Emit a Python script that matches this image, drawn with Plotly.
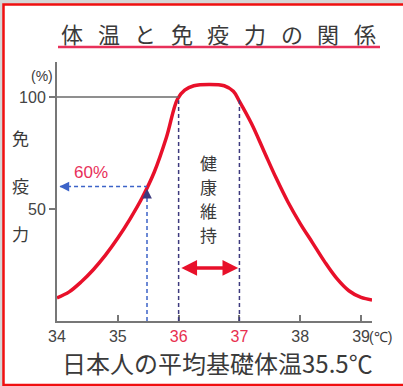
import plotly.graph_objects as go

# ---- data ----
temps = [34.0, 34.2, 34.4, 34.6, 34.8, 35.0, 35.2, 35.4, 35.6, 35.8, 35.98, 36.1, 36.25, 36.5, 36.75, 36.9, 37.0,
         37.2, 37.4, 37.6, 37.8, 38.0, 38.2, 38.4, 38.6, 38.8, 39.0, 39.18]
immunity = [10.3, 13.0, 17.5, 23.0, 29.5, 37.0, 45.5, 55.0, 66.5, 82.0, 99.0, 103.0, 105.0, 105.6, 105.0, 102.5, 98.0,
            88.0, 76.0, 64.0, 53.0, 43.5, 35.0, 26.5, 19.0, 13.5, 10.5, 9.4]
x_ticks = [34, 35, 36, 37, 38, 39]
x_tick_labels = ["34", "35", "<span style='color:#e8304f'>36</span>", "<span style='color:#e8304f'>37</span>", "38", "39"]
y_ticks = [50, 100]
y_tick_labels = ["50", "100"]
avg_temp = 35.48
avg_immunity = 60
healthy_range = [36, 37]
title_chars = list("体温と免疫力の関係")
y_title_chars = list("免疫力")
healthy_chars = list("健康維持")
bottom_text = "日本人の平均基礎体温35.5℃"

W, H = 403, 386
L, R, T, B = 57, 31, 62, 65
PW, PH = W - L - R, H - T - B

def px(xp):
    return (xp - L) / PW

def py(yp):
    return (H - B - yp) / PH

FONT = "Noto Sans CJK JP, Noto Sans, sans-serif"
NUMF = "Liberation Sans, Arial, sans-serif"
TXT = "#3a3a3a"
RED = "#e8102a"
BLUE = "#3c63c8"
NAVY = "#3d3a7e"

fig = go.Figure()
fig.add_trace(go.Scatter(x=temps, y=immunity, mode="lines",
                         line=dict(color=RED, width=3.5, shape="spline", smoothing=1.0),
                         hoverinfo="skip", showlegend=False))

shapes = []
shapes.append(dict(type="rect", xref="paper", yref="paper", x0=px(3.5), x1=px(420), y0=py(385), y1=py(4.5),
                   fillcolor="white", line=dict(color="#f01010", width=2.5), layer="below"))
shapes.append(dict(type="line", xref="paper", yref="paper", x0=px(58), x1=px(380), y0=py(47), y1=py(47),
                   line=dict(color="#e8305a", width=2.5)))
shapes.append(dict(type="line", xref="x", yref="y", x0=34, x1=healthy_range[0], y0=100, y1=100,
                   line=dict(color="#6a6a6a", width=1.5)))
for t in healthy_range:
    shapes.append(dict(type="line", xref="x", yref="y", x0=t, x1=t, y0=0, y1=98.5,
                       line=dict(color=NAVY, width=1.5, dash="4px,3px")))
shapes.append(dict(type="line", xref="x", yref="y", x0=34.05, x1=avg_temp, y0=avg_immunity, y1=avg_immunity,
                   line=dict(color=BLUE, width=1.5, dash="4px,3px")))
shapes.append(dict(type="line", xref="x", yref="y", x0=avg_temp, x1=avg_temp, y0=0, y1=avg_immunity - 2,
                   line=dict(color=BLUE, width=1.5, dash="4px,3px")))

ann = []
x0c, pitch = 72, 36.6
for i, ch in enumerate(title_chars):
    ann.append(dict(text=ch, xref="paper", yref="paper", x=px(x0c + i * pitch), y=py(33),
                    xanchor="center", yanchor="middle",
                    showarrow=False, font=dict(family=FONT, size=22, color=TXT)))
for ch, yy in zip(y_title_chars, [137, 185, 233]):
    ann.append(dict(text=ch, xref="paper", yref="paper", x=px(20), y=py(yy),
                    xanchor="center", yanchor="middle",
                    showarrow=False, font=dict(family=FONT, size=17, color=TXT)))
for i, ch in enumerate(healthy_chars):
    ann.append(dict(text=ch, xref="paper", yref="paper", x=px(208), y=py(162 + i * 24),
                    xanchor="center", yanchor="middle",
                    showarrow=False, font=dict(family=FONT, size=17, color=TXT)))
ann.append(dict(text="(%)", xref="paper", yref="paper", x=px(55), y=py(76), xanchor="right", yanchor="middle",
                showarrow=False, font=dict(family=NUMF, size=14, color=TXT)))
ann.append(dict(text="(℃)", xref="paper", yref="paper", x=px(367), y=py(337), xanchor="left", yanchor="middle",
                showarrow=False, font=dict(family=NUMF, size=14, color=TXT)))
ann.append(dict(text="60%", xref="x", yref="y", x=34.56, y=66.5, showarrow=False,
                xanchor="center", yanchor="middle",
                font=dict(family=NUMF, size=17, color="#e8305a")))
ann.append(dict(text=bottom_text, xref="paper", yref="paper", x=px(217), y=py(362), showarrow=False,
                xanchor="center", yanchor="middle",
                font=dict(family=FONT, size=24, color=TXT)))
ann.append(dict(text="", x=healthy_range[1] - 0.02, y=23.7, ax=healthy_range[0] + 0.02, ay=23.7,
                xref="x", yref="y", axref="x", ayref="y", showarrow=True, arrowhead=2, startarrowhead=2,
                arrowside="end+start", arrowwidth=3.5, arrowsize=0.9, startarrowsize=0.9, arrowcolor=RED,
                standoff=0, startstandoff=0))
ann.append(dict(text="", x=34.04, y=avg_immunity, ax=34.2, ay=avg_immunity,
                xref="x", yref="y", axref="x", ayref="y", showarrow=True, arrowhead=2,
                arrowwidth=1.5, arrowsize=1.3, arrowcolor=BLUE, standoff=0))
ann.append(dict(text="", x=avg_temp, y=avg_immunity - 1, ax=avg_temp, ay=avg_immunity - 5,
                xref="x", yref="y", axref="x", ayref="y", showarrow=True, arrowhead=2,
                arrowwidth=1.5, arrowsize=1.3, arrowcolor=NAVY, standoff=0))
ann.append(dict(text="", x=avg_temp - 0.03, y=-1.8, ax=avg_temp - 0.03, ay=-11.8,
                xref="x", yref="y", axref="x", ayref="y", showarrow=True, arrowhead=2,
                arrowwidth=1.8, arrowsize=1.0, arrowcolor=BLUE, standoff=0))

fig.update_layout(
    width=W, height=H, margin=dict(l=L, r=R, t=T, b=B),
    paper_bgcolor="#d6d6d6", plot_bgcolor="rgba(0,0,0,0)",
    shapes=shapes, annotations=ann, showlegend=False,
    xaxis=dict(range=[34, 39.18], tickvals=x_ticks, ticktext=x_tick_labels, ticks="inside", ticklen=6,
               tickcolor="#777", tickwidth=1.5, showgrid=False, zeroline=False, showline=True,
               linecolor="#777", linewidth=2, tickfont=dict(family=NUMF, size=16, color="#444"), fixedrange=True),
    yaxis=dict(range=[0, 115.6], tickvals=y_ticks, ticktext=y_tick_labels, ticks="outside", ticklen=6,
               tickcolor="#777", tickwidth=1.5, showgrid=False, zeroline=False, showline=True,
               linecolor="#777", linewidth=2, tickfont=dict(family=NUMF, size=16, color="#444"), fixedrange=True),
)
fig.write_html("out.html", config={"displayModeBar": False},
               post_script="document.body.style.margin='0px';document.body.style.overflow='hidden';")
